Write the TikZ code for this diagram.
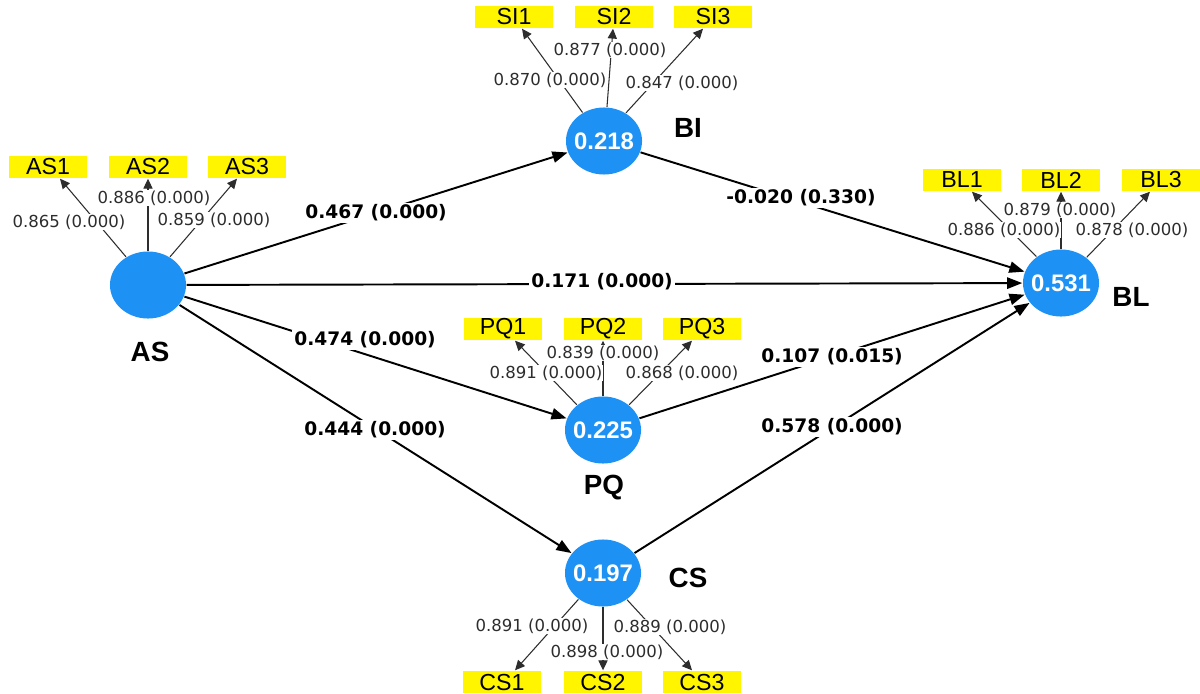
\documentclass[tikz,border=0pt]{standalone}
\usepackage{fontspec}
\usetikzlibrary{arrows.meta,shapes.geometric,calc}
\newfontfamily\labfont{DejaVu Sans}
\newfontfamily\arialfont{Liberation Sans}
\definecolor{nodeblue}{RGB}{30,145,245}
\definecolor{boxyellow}{RGB}{255,245,0}
\definecolor{loadgray}{RGB}{45,45,45}
\begin{document}
\begin{tikzpicture}[x=0.01cm,y=-0.01cm,
  latent/.style={ellipse, fill=nodeblue, minimum width=0.76cm, minimum height=0.67cm, inner sep=0pt},
  val/.style={text=white, inner sep=0pt, font=\arialfont\bfseries\fontsize{6.8pt}{7pt}\selectfont},
  ind/.style={rectangle, fill=boxyellow, minimum width=0.78cm, minimum height=0.22cm, inner sep=0pt, font=\arialfont\fontsize{6.6pt}{7pt}\selectfont},
  cname/.style={inner sep=0pt, font=\arialfont\bfseries\fontsize{7.9pt}{8pt}\selectfont},
  loadarrow/.style={draw=loadgray, line width=0.3pt, -{Triangle[length=2.8pt,width=2.6pt]}},
  struct/.style={draw=black, line width=0.55pt, -{Triangle[length=4.3pt,width=3.2pt]}},
  lload/.style={fill=white, inner sep=0.3pt, text=loadgray, font=\labfont\fontsize{4.7pt}{5pt}\selectfont},
  lpath/.style={fill=white, inner sep=0.6pt, font=\labfont\bfseries\fontsize{5.3pt}{6pt}\selectfont},
]
\fill[white] (0,0) rectangle (1200,694);
\useasboundingbox (0,0) rectangle (1200,694);

% latent variables
\node[latent] (AS) at (148,285) {};
\node[latent, label={[val]center:0.218}] (BI) at (604,141) {};
\node[latent, label={[val]center:0.531}] (BL) at (1061,283) {};
\node[latent, label={[val]center:0.225}] (PQ) at (603,430) {};
\node[latent, label={[val]center:0.197}] (CS) at (603,573) {};

\node[cname] (ASn) at (150,352) {AS};
\node[cname] (BIn) at (688,128) {BI};
\node[cname] (BLn) at (1131,297) {BL};
\node[cname] (PQn) at (604,488) {PQ};
\node[cname] (CSn) at (688,578) {CS};

% indicators
\node[ind] (AS1) at (48,167) {AS1};
\node[ind] (AS2) at (148,167) {AS2};
\node[ind] (AS3) at (247,167) {AS3};
\node[ind] (SI1) at (514,17) {SI1};
\node[ind] (SI2) at (614,17) {SI2};
\node[ind] (SI3) at (713,17) {SI3};
\node[ind] (BL1) at (962,180) {BL1};
\node[ind] (BL2) at (1061,180) {BL2};
\node[ind] (BL3) at (1161,180) {BL3};
\node[ind] (PQ1) at (503,329) {PQ1};
\node[ind] (PQ2) at (603,329) {PQ2};
\node[ind] (PQ3) at (702,329) {PQ3};
\node[ind] (CS1) at (502,682) {CS1};
\node[ind] (CS2) at (603,682) {CS2};
\node[ind] (CS3) at (702,682) {CS3};

% loading arrows
\draw[loadarrow] (AS.128) -- ($(AS1.south)+(12,0)$);
\draw[loadarrow] (AS.90) -- (AS2.south);
\draw[loadarrow] (AS.52) -- ($(AS3.south)+(-10,0)$);
\draw[loadarrow] (BI.127) -- ($(SI1.south)+(8,0)$);
\draw[loadarrow] (BI.85) -- ($(SI2.south)+(-1,0)$);
\draw[loadarrow] (BI.52) -- ($(SI3.south)+(-10,0)$);
\draw[loadarrow] (BL.133) -- ($(BL1.south)+(10,0)$);
\draw[loadarrow] (BL.90) -- (BL2.south);
\draw[loadarrow] (BL.45) -- ($(BL3.south)+(-11,0)$);
\draw[loadarrow] (PQ.136) -- ($(PQ1.south)+(12,0)$);
\draw[loadarrow] (PQ.90) -- (PQ2.south);
\draw[loadarrow] (PQ.44) -- ($(PQ3.south)+(-10,0)$);
\draw[loadarrow] (CS.227) -- ($(CS1.north)+(13,0)$);
\draw[loadarrow] (CS.270) -- (CS2.north);
\draw[loadarrow] (CS.312) -- ($(CS3.north)+(-10,0)$);

% structural paths
\draw[struct] (AS) -- (BI);
\draw[struct] (AS) -- (BL);
\draw[struct] (AS) -- (PQ);
\draw[struct] (AS) -- (CS);
\draw[struct] (BI) -- (BL);
\draw[struct] (PQ) -- (BL);
\draw[struct] (CS) -- (BL);

% loading labels
\node[lload] (lAS1) at (69,222) {0.865 (0.000)};
\node[lload] (lAS2) at (154,198) {0.886 (0.000)};
\node[lload] (lAS3) at (214,220) {0.859 (0.000)};
\node[lload] (lSI1) at (550,80) {0.870 (0.000)};
\node[lload] (lSI2) at (610,50) {0.877 (0.000)};
\node[lload] (lSI3) at (682,83) {0.847 (0.000)};
\node[lload] (lBL2) at (1060,210) {0.879 (0.000)};
\node[lload] (lBL1) at (1004,230) {0.886 (0.000)};
\node[lload] (lBL3) at (1132,230) {0.878 (0.000)};
\node[lload] (lPQ2) at (603,353) {0.839 (0.000)};
\node[lload] (lPQ1) at (546,373) {0.891 (0.000)};
\node[lload] (lPQ3) at (682,373) {0.868 (0.000)};
\node[lload] (lCS1) at (532,626) {0.891 (0.000)};
\node[lload] (lCS3) at (670,627) {0.889 (0.000)};
\node[lload] (lCS2) at (607,652) {0.898 (0.000)};

% path labels
\node[lpath] (pASBI) at (376,213) {0.467 (0.000)};
\node[lpath] (pBIBL) at (801,198) {-0.020 (0.330)};
\node[lpath] (pASBL) at (602,282) {0.171 (0.000)};
\node[lpath] (pASPQ) at (365,340) {0.474 (0.000)};
\node[lpath] (pASCS) at (375,430) {0.444 (0.000)};
\node[lpath] (pPQBL) at (832,357) {0.107 (0.015)};
\node[lpath] (pCSBL) at (832,427) {0.578 (0.000)};
\end{tikzpicture}
\end{document}
